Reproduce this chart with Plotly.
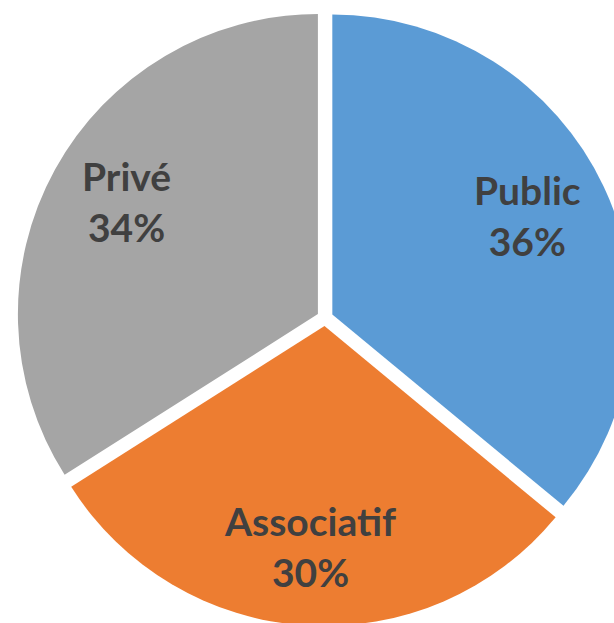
import math

import plotly.graph_objects as go

# Répartition par secteur
labels = ["Public", "Associatif", "Privé"]
values = [36, 30, 34]
colors = ["#5B9BD5", "#ED7D31", "#A5A5A5"]

# figure is bigger than the window so the pie gets cut on the right and bottom
W, H = 650, 640
box = 616.2
cx, cy = 325, 318
pull = 0.027
r = box / (2 + 2 * pull)

fig = go.Figure(go.Pie(
    labels=labels,
    values=values,
    sort=False,
    direction="clockwise",
    rotation=0,
    pull=[pull] * len(values),
    marker=dict(colors=colors, line=dict(width=0)),
    textinfo="none",
    hoverinfo="label+percent",
    domain=dict(
        x=[(cx - box / 2) / W, (cx + box / 2) / W],
        y=[(H - cy - box / 2) / H, (H - cy + box / 2) / H],
    ),
))

# data labels, placed along each slice's bisector like Excel does
total = sum(values)
start = 0.0
for lab, val in zip(labels, values):
    span = 2 * math.pi * val / total
    mid = start + span / 2
    s = math.sin(span / 2)
    dist = 1.42 * r * (1 - s / (1 + s))
    x = cx + dist * math.sin(mid)
    y = cy - dist * math.cos(mid)
    fig.add_annotation(
        x=x / W, y=1 - y / H, xref="paper", yref="paper",
        text="%s<br>%d%%" % (lab, round(100 * val / total)),
        showarrow=False, xanchor="center", yanchor="middle", yshift=7,
        font=dict(family="Lato", size=39, color="#404040", weight="bold"),
    )
    start += span

fig.update_layout(
    width=W,
    height=H,
    margin=dict(l=0, r=0, t=0, b=0),
    showlegend=False,
    paper_bgcolor="white",
    plot_bgcolor="white",
)

fig.write_html(
    "out.html",
    config={"displayModeBar": False},
    post_script="document.body.style.margin='0';document.body.style.overflow='hidden';",
)
